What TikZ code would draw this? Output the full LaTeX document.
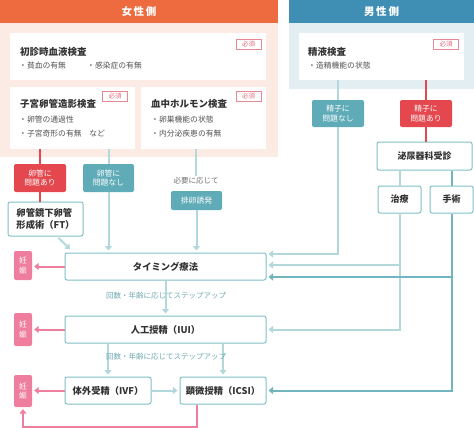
\documentclass[tikz,border=0pt]{standalone}
\usepackage{fontspec}
\setmainfont{Noto Sans CJK JP}
\usetikzlibrary{arrows.meta}
\definecolor{orangec}{HTML}{ED6B3E}
\definecolor{pinkbg}{HTML}{FCEAE4}
\definecolor{bluec}{HTML}{3F8FB4}
\definecolor{bluebg}{HTML}{E3EEF3}
\definecolor{badgec}{HTML}{E46A7A}
\definecolor{redc}{HTML}{E5474F}
\definecolor{tealc}{HTML}{5FABB8}
\definecolor{lightc}{HTML}{B2D8DC}
\definecolor{darkc}{HTML}{72B5BF}
\definecolor{boxc}{HTML}{80C0C7}
\definecolor{pinkc}{HTML}{EF7D9D}
\definecolor{txt}{HTML}{333333}
\definecolor{steptxt}{HTML}{6FA9B3}
\begin{document}
\begin{tikzpicture}[x=1pt,y=-1pt,
  tip/.style={-{Triangle[length=4.5pt,width=7pt]}, shorten >=2pt},
  lightline/.style={draw=lightc, line width=2pt},
  darkline/.style={draw=darkc, line width=2pt},
  redline/.style={draw=redc, line width=2pt},
  pinkline/.style={draw=pinkc, line width=2pt},
  head/.style={inner sep=0, text=white, font=\bfseries\fontsize{10.5}{12}\selectfont},
  panel/.style={inner sep=0},
  wbox/.style={fill=white, inner sep=0},
  title/.style={anchor=west, inner sep=0, text=txt, font=\bfseries\fontsize{9.5}{11}\selectfont},
  bullet/.style={anchor=west, inner sep=0, text=txt!85, font=\fontsize{7.8}{9}\selectfont},
  badge/.style={draw=badgec!80, fill=white, line width=0.7pt, inner sep=0, minimum width=25pt, minimum height=10pt, text=badgec, font=\fontsize{6.5}{7}\selectfont},
  lab/.style={rounded corners=2pt, inner sep=0, text=white, align=center, font=\fontsize{7.8}{9.5}\selectfont},
  redlab/.style={lab, fill=redc},
  teallab/.style={lab, fill=tealc},
  box/.style={draw=boxc, line width=1pt, fill=white, rounded corners=2pt, inner sep=0, text=txt, font=\bfseries\fontsize{9.3}{12}\selectfont},
  preg/.style={fill=pinkc, text=white, rounded corners=2pt, minimum width=18pt, inner sep=0, align=center, font=\fontsize{7.8}{9.5}\selectfont},
  note/.style={inner sep=1pt, text=steptxt, font=\fontsize{7.5}{9}\selectfont}
]
\useasboundingbox (0,0) rectangle (474,428);

% panels and headers
\node[panel, fill=pinkbg, minimum width=278pt, minimum height=134pt] (fpanel) at (139,90) {};
\node[head, fill=orangec, minimum width=278pt, minimum height=23pt] (fhead) at (139,11.5) {女\,性\,側};
\node[panel, fill=bluebg, minimum width=185pt, minimum height=66pt] (mpanel) at (381.5,56) {};
\node[head, fill=bluec, minimum width=185pt, minimum height=23pt] (mhead) at (381.5,11.5) {男\,性\,側};

% female boxes
\node[wbox, minimum width=256pt, minimum height=47pt] (b1) at (138,56.5) {};
\node[title] (b1t) at (20,52) {初診時血液検査};
\node[bullet] (b1a) at (19,66) {・貧血の有無};
\node[bullet] (b1b) at (87,66) {・感染症の有無};
\node[badge] (bd1) at (248.5,44) {必須};

\node[wbox, minimum width=125pt, minimum height=62pt] (b2) at (72.5,118) {};
\node[title] (b2t) at (20,104) {子宮卵管造影検査};
\node[bullet] (b2a) at (19,120) {・卵管の通過性};
\node[bullet] (b2b) at (19,134) {・子宮奇形の有無\quad など};
\node[badge] (bd2) at (115,96) {必須};

\node[wbox, minimum width=125pt, minimum height=62pt] (b3) at (203.5,118) {};
\node[title] (b3t) at (151,104) {血中ホルモン検査};
\node[bullet] (b3a) at (151,120) {・卵巣機能の状態};
\node[bullet] (b3b) at (151,134) {・内分泌疾患の有無};
\node[badge] (bd3) at (248.5,96) {必須};

% male box
\node[wbox, minimum width=165pt, minimum height=47pt] (mb) at (381.5,56.5) {};
\node[title] (mbt) at (308,52) {精液検査};
\node[bullet] (mba) at (308,66) {・造精機能の状態};
\node[badge] (bd4) at (446,44) {必須};

% female labels
\node[redlab, minimum width=52pt, minimum height=28pt] (L1) at (40,178) {卵管に\\問題あり};
\node[teallab, minimum width=51pt, minimum height=28pt] (L2) at (108.5,178) {卵管に\\問題なし};
\node[box, minimum width=75pt, minimum height=34pt, align=left] (FT) at (45.5,219) {卵管鏡下卵管\\形成術（FT）};
\node[note, text=txt!70] (need) at (196,181) {必要に応じて};
\node[teallab, minimum width=51pt, minimum height=19pt] (hai) at (196.5,200.5) {排卵誘発};

% treatment boxes
\node[box, minimum width=201pt, minimum height=27pt] (timing) at (165.5,266.5) {タイミング療法};
\node[box, minimum width=201pt, minimum height=27pt] (iui) at (165.5,329.5) {人工授精（IUI）};
\node[box, minimum width=86pt, minimum height=27pt] (ivf) at (108,390.5) {体外受精（IVF）};
\node[box, minimum width=86pt, minimum height=27pt] (icsi) at (223,390.5) {顕微授精（ICSI）};

\node[preg, minimum height=29pt] (p1) at (23,265.5) {妊\\娠};
\node[preg, minimum height=33pt] (p2) at (23,329.5) {妊\\娠};
\node[preg, minimum height=32pt] (p3) at (23,391) {妊\\娠};

% male flow
\node[teallab, minimum width=52pt, minimum height=27pt] (N1) at (338,113.5) {精子に\\問題なし};
\node[redlab, minimum width=52pt, minimum height=27pt] (N2) at (426,113.5) {精子に\\問題あり};
\node[box, font=\bfseries\fontsize{9}{11}\selectfont, minimum width=95pt, minimum height=28pt] (uro) at (424.5,156) {泌尿器科受診};
\node[box, font=\bfseries\fontsize{9}{11}\selectfont, minimum width=43pt, minimum height=27pt] (chi) at (399.5,199.5) {治療};
\node[box, font=\bfseries\fontsize{9}{11}\selectfont, minimum width=43pt, minimum height=27pt] (shu) at (451.5,199.5) {手術};

\coordinate (t1) at ([yshift=12.5pt]timing.east);
\coordinate (t2) at ([yshift=1.5pt]timing.east);
\coordinate (t3) at ([yshift=-10.5pt]timing.east);

% connectors female
\draw[redline] (b2.south -| L1.north) -- (L1.north);
\draw[redline] (L1.south) -- (L1.south |- FT.north);
\draw[lightline] (b2.south -| L2.north) -- (L2.north);
\draw[lightline, tip] (L2.south) -- (L2.south |- timing.north);
\draw[lightline] (b3.south -| need.north) -- (need.north);
\draw[lightline, tip] (hai.south) -- (hai.south |- timing.north);
\draw[lightline, tip] ([xshift=-25pt,yshift=-1.5pt]FT.south east) -- ([xshift=7pt,yshift=2pt]timing.north west);

\draw[pinkline, tip] (timing.west) -- (timing.west -| p1.east);
\draw[pinkline, tip] (iui.west) -- (iui.west -| p2.east);
\draw[pinkline, tip] (ivf.west) -- (ivf.west -| p3.east);
\draw[pinkline, tip] ([xshift=-26pt]icsi.south) -- ++(0,22) -| (p3.south);

\draw[lightline, tip] (timing.south) -- (iui.north);
\node[note] (step1) at (166,296) {回数・年齢に応じてステップアップ};
\draw[lightline, tip] (iui.south -| ivf.north) -- (ivf.north);
\draw[lightline, tip] (iui.south -| icsi.north) -- (icsi.north);
\node[note] (step2) at (166,357) {回数・年齢に応じてステップアップ};
\draw[lightline, tip] (ivf.east) -- (icsi.west);

% connectors male
\draw[lightline] (mb.south -| N1.north) -- (N1.north);
\draw[lightline, tip] (N1.south) |- (t1);
\draw[redline] (mb.south -| N2.north) -- (N2.north);
\draw[redline] (N2.south) -- (N2.south |- uro.north);
\draw[lightline] (uro.south -| chi.north) -- (chi.north);
\draw[darkline] (uro.south -| shu.north) -- (shu.north);
\draw[lightline, tip] (chi.south) |- (iui.east);
\draw[lightline, tip] (t2 -| chi.south) -- (t2);
\draw[darkline, tip] (shu.south) |- (icsi.east);
\draw[darkline, tip] (t3 -| shu.south) -- (t3);
\end{tikzpicture}
\end{document}
